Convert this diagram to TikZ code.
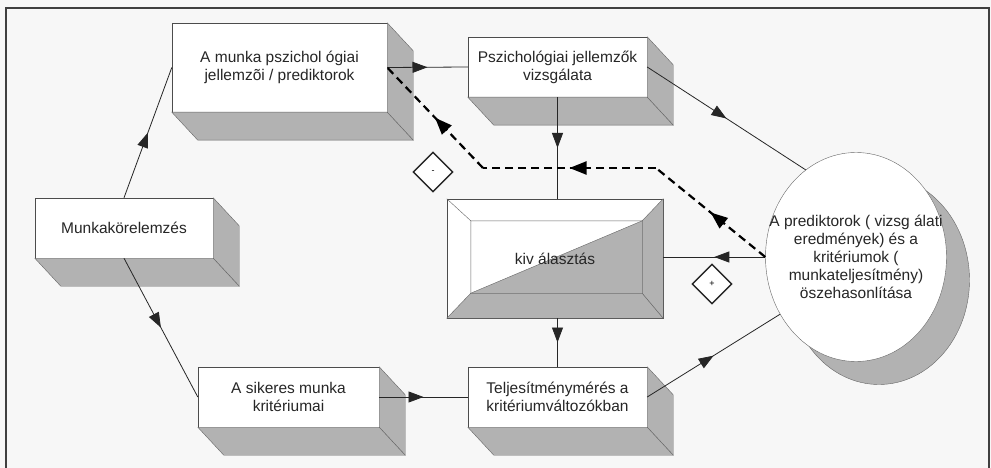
\documentclass[tikz,border=0pt]{standalone}
\usepackage{fontspec}
\setmainfont{Liberation Sans}
\usetikzlibrary{arrows.meta,shapes.geometric,decorations.markings}

\begin{document}
\begin{tikzpicture}[x=1pt,y=-1pt,
    elol/.style={draw=black!70, fill=white, inner sep=0pt, align=center, text=black!85, font=\fontsize{15.5}{18}\selectfont},
    oldal/.style={draw=black!60, fill=black!30},
    kor/.style={ellipse, draw=black!60, inner sep=0pt, minimum width=181pt, minimum height=209pt},
    nyil/.style={draw=black!85, line width=0.8pt, postaction={decorate},
      decoration={markings, mark=at position #1 with {\arrow{Triangle[length=15pt,width=11pt]}}}},
    nyil/.default=0.5,
    szagg/.style={line width=2.2pt, dash pattern=on 8pt off 5pt, postaction={decorate},
      decoration={markings, mark=at position 0.5 with {\arrow{Triangle[length=17pt,width=13pt]}}}},
    rombusz/.style={diamond, draw=black!85, line width=1.4pt, fill=white, inner sep=0pt, minimum size=40pt, font=\fontsize{9}{9}\selectfont}]
      \newcommand\doboz[5]{
        \node[elol, minimum width=#3pt, minimum height=#4pt] (#1) at (#2) {#5};
        \draw[oldal] (#1.north east) -- ([shift={(26,28)}]#1.north east) -- ([shift={(26,28)}]#1.south east) -- (#1.south east) -- cycle;
        \draw[oldal] (#1.south west) -- ([shift={(26,28)}]#1.south west) -- ([shift={(26,28)}]#1.south east) -- (#1.south east) -- cycle;
      }
      \path[use as bounding box, fill=black!3] (0,0) rectangle (991,468);
      \draw[line width=2pt, black!75] (6,468) -- (6,8) -- (989,8) -- (989,468);
      \doboz{pszi}{279.5,67.5}{215}{89}{A munka pszichol ógiai\\jellemzõi / prediktorok}
      \doboz{vizsg}{557.5,67}{179}{60}{Pszichológiai jellemzők\\vizsgálata}
      \doboz{munka}{124,228}{178}{60}{Munkakörelemzés}
      \doboz{siker}{288.5,397}{181}{60}{A sikeres munka\\kritériumai}
      \doboz{telj}{557.5,397}{179}{60}{Teljesítménymérés a\\kritériumváltozókban}
      \node[elol, minimum width=216pt, minimum height=119pt] (kival) at (555,258.5) {};
      \coordinate (kNW) at ([shift={(24,22)}]kival.north west);
      \coordinate (kSE) at ([shift={(-21,-25)}]kival.south east);
      \coordinate (kNE) at (kSE |- kNW);
      \coordinate (kSW) at (kNW |- kSE);
      \draw[oldal] (kival.south west) -- (kival.south east) -- (kSE) -- (kSW) -- cycle;
      \draw[oldal] (kival.south east) -- (kival.north east) -- (kNE) -- (kSE) -- cycle;
      \draw[oldal] (kSW) -- (kNE) -- (kSE) -- cycle;
      \draw[black!60] (kival.north west) -- (kNW) -- (kNE) (kNW) -- (kSW);
      \node[elol, draw=none, fill=none] (kivfelirat) at (kival) {kiv álasztás};
      \node[kor, fill=black!30] (arnyek) at (879,280) {};
      \node[kor, fill=white] (osszeh) at (856,257) {};
      \node[elol, draw=none, fill=none] (osszfelirat) at (osszeh)
        {A prediktorok ( vizsg álati\\eredmények) és a\\kritériumok (\\munkateljesítmény)\\öszehasonlítása};
      \node[rombusz] (minusz) at (433,172) {-};
      \node[rombusz] (plusz) at (712,284) {+};
      \coordinate (t1) at (656,168);
      \coordinate (t2) at (483,168);
      \draw[nyil] (munka.north) -- (pszi.west);
      \draw[nyil] (munka.south) -- (siker.west);
      \draw[nyil] (pszi.east) -- (vizsg.west);
      \draw[nyil] (siker.east) -- (telj.west);
      \draw[nyil] (vizsg.east) -- (osszeh.120);
      \draw[nyil] (vizsg.south) -- (vizsg.south |- kival.north);
      \draw[nyil] (telj.north |- kival.south) -- (telj.north);
      \draw[nyil] (telj.east) -- (osszeh.217);
      \draw[nyil] (osszeh.west) -- (osszeh.west -| kival.east);
      \draw[szagg] (osszeh.west) -- (t1);
      \draw[szagg] (t1) -- (t2);
      \draw[szagg] (t2) -- (pszi.east);
    \end{tikzpicture}
\end{document}
